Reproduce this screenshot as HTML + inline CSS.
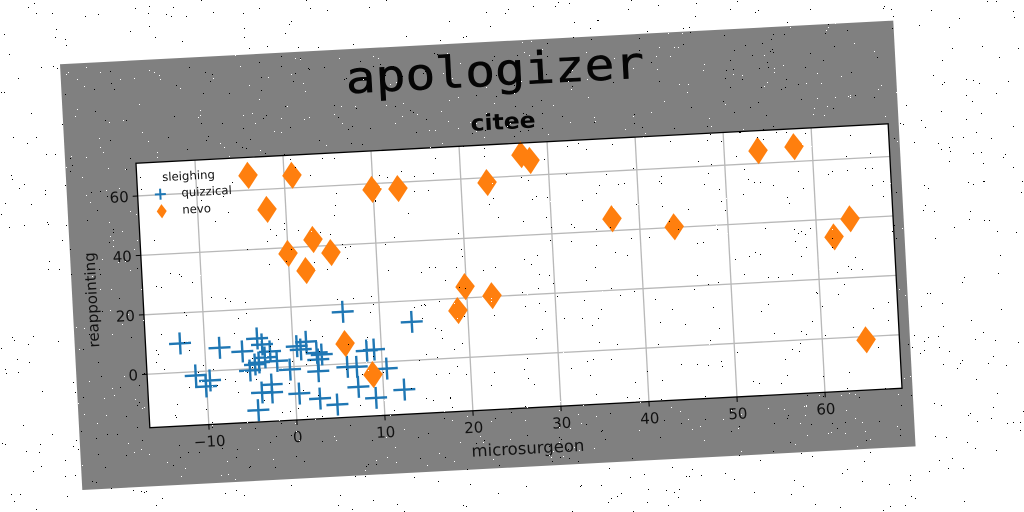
<!DOCTYPE html>
<html lang="en">
<head>
<meta charset="utf-8">
<title>apologizer</title>
<style>
html,body{margin:0;padding:0;background:#fff;width:1024px;height:512px;overflow:hidden}
svg{display:block}
text{font-family:"DejaVu Sans","Liberation Sans",sans-serif;fill:#111111}
</style>
</head>
<body>
<svg id="chart" xmlns="http://www.w3.org/2000/svg" width="1024" height="512" viewBox="0 0 1024 512">
  <rect x="0" y="0" width="1024" height="512" fill="#ffffff"/>
  <g id="figure" transform="translate(60 64.3) rotate(-3)">
    <rect x="0" y="0" width="834.4" height="426.3" fill="#808080"/>
    <text x="434" y="44" text-anchor="middle" textLength="299" lengthAdjust="spacingAndGlyphs" style="font-family:'DejaVu Sans Mono','Liberation Mono',monospace;font-size:44px;fill:#050505;stroke:#050505;stroke-width:0.5">apologizer</text>
    <text x="439.5" y="88" text-anchor="middle" style="font-size:22px;font-weight:bold;fill:#050505" textLength="65" lengthAdjust="spacingAndGlyphs">citee</text>
    <rect x="70.7" y="102.8" width="753.2" height="264.8" fill="#ffffff"/>
    <g id="grid"></g>
    <g id="series-quizzical"></g>
    <g id="series-nevo"></g>
    <rect x="70.7" y="102.8" width="753.2" height="264.8" fill="none" stroke="#000000" stroke-width="1.3"/>
    <g id="ticks"></g>
    <text x="447.2" y="413.5" text-anchor="middle" style="font-size:16.5px">microsurgeon</text>
    <text transform="translate(24.5 237) rotate(-90)" text-anchor="middle" style="font-size:15px">reappointing</text>
    <g>
      <text x="122.5" y="122" text-anchor="middle" style="font-size:11.7px">sleighing</text>
      <path d="M87.9 135H98.9M93.4 129.5V140.5" stroke="#1f77b4" stroke-width="2" fill="none"/>
      <text x="114.5" y="138.5" style="font-size:11.7px">quizzical</text>
      <path d="M93.9 145L98.9 152.1L93.9 159.2L88.9 152.1Z" fill="#ff7f0e"/>
      <text x="114.5" y="155.5" style="font-size:11.7px">nevo</text>
    </g>
  </g>
  <path id="noise-black" fill="#000000"/>
  <path id="noise-white" fill="#ffffff"/>
</svg>
<script>
const xTickValues = [-10, 0, 10, 20, 30, 40, 50, 60];
const yTickValues = [0, 20, 40, 60];
const xTickLabels = ['\u221210', '0', '10', '20', '30', '40', '50', '60'];
const yTickLabels = ['0', '20', '40', '60'];
const xDomain = [-16.7, 68.75];
const yDomain = [-18, 71];
const quizzicalX = [-12.78, -8.33, -5.77, -11.19, -9.6, -10.09, -4.02, -3.5, -2.63, -3.24, -1.9, -5.01, -4.41, -3.95, -0.47, -2.64, -3.78, -2.64, -4.3, 0.44, 2.76, 4.69, 2.72, 7.17, 9.11, 10.49, 6.04, 7.1, 12.36, 13.6, 5.84, 8.33, 9.16, 0.43, 1.51, 0.86, 2.65, 3.21, 2.79];
const quizzicalY = [9.75, 7.6, 5.96, -1.27, -3.2, -5.15, 10.06, 7.96, 5.47, 3.54, 2.15, -0.56, 1.36, 1.96, -0.94, -5.64, -8.16, -8.34, -14.03, -9.16, -11.21, -13.53, -2.01, -7.97, -11.97, -2.32, -1.05, -1.22, -9.69, 12.91, 17.5, 4.07, 4.28, 6.77, 8.08, 5.59, 4.2, 3.54, 1.92];
const nevoX = [-4.08, 0.9, -2.13, 9.89, 12.83, 22.96, 26.97, 27.96, 36.9, 43.9, 53.85, 57.95, 63.87, 61.95, 64.97, -0.01, 2.9, 4.86, 1.93, 5.92, 8.9, 19.85, 18.9, 22.85];
const nevoY = [64.96, 64.2, 53.2, 58.05, 57.9, 58.35, 67.1, 65, 44, 40.2, 64.3, 65, 39.8, 34, -1.1, 38.05, 42.3, 37.6, 32, 6.8, -4.1, 23.8, 15.9, 20.3];

const NS = 'http://www.w3.org/2000/svg';
const plotLeft = 70.7, plotRight = 823.9, plotTop = 102.8, plotBottom = 367.6;
function xScale(v) { return plotLeft + (v - xDomain[0]) / (xDomain[1] - xDomain[0]) * (plotRight - plotLeft); }
function yScale(v) { return plotBottom - (v - yDomain[0]) / (yDomain[1] - yDomain[0]) * (plotBottom - plotTop); }

const grid = document.getElementById('grid');
const ticks = document.getElementById('ticks');

function makeLine(parent, x1, y1, x2, y2, color, width) {
  const l = document.createElementNS(NS, 'line');
  l.setAttribute('x1', x1);
  l.setAttribute('y1', y1);
  l.setAttribute('x2', x2);
  l.setAttribute('y2', y2);
  l.setAttribute('stroke', color);
  l.setAttribute('stroke-width', width);
  parent.appendChild(l);
  return l;
}
function makeLabel(x, y, anchor, str) {
  const t = document.createElementNS(NS, 'text');
  t.setAttribute('x', x);
  t.setAttribute('y', y);
  t.setAttribute('text-anchor', anchor);
  t.setAttribute('style', 'font-size:15px');
  t.textContent = str;
  ticks.appendChild(t);
  return t;
}

xTickValues.forEach(function (v, i) {
  const x = xScale(v);
  const g = makeLine(grid, x, plotTop, x, plotBottom, '#b8b8b8', 1.3);
  
  
  const m = makeLine(ticks, x, plotBottom, x, plotBottom + 5, '#000000', 1);
  
  
  const t = makeLabel(x, plotBottom + 22, 'middle', xTickLabels[i]);
  
  
});
yTickValues.forEach(function (v, i) {
  const y = yScale(v);
  const g = makeLine(grid, plotLeft, y, plotRight, y, '#b8b8b8', 1.3);
  
  
  const m = makeLine(ticks, plotLeft - 5, y, plotLeft, y, '#000000', 1);
  
  
  const t = makeLabel(plotLeft - 9, y + 5.5, 'end', yTickLabels[i]);
  
  
});

const quizzicalGroup = document.getElementById('series-quizzical');
quizzicalX.forEach(function (v, i) {
  const cx = xScale(v), cy = yScale(quizzicalY[i]), r = 11;
  const p = document.createElementNS(NS, 'path');
  p.setAttribute('d', 'M' + (cx - r) + ' ' + cy + 'H' + (cx + r) + 'M' + cx + ' ' + (cy - r) + 'V' + (cy + r));
  p.setAttribute('stroke', '#1f77b4');
  p.setAttribute('stroke-width', '2.4');
  p.setAttribute('fill', 'none');
  
  
  quizzicalGroup.appendChild(p);
});

const nevoGroup = document.getElementById('series-nevo');
nevoX.forEach(function (v, i) {
  const cx = xScale(v), cy = yScale(nevoY[i]), w = 9.8, h = 13.6;
  const p = document.createElementNS(NS, 'path');
  p.setAttribute('d', 'M' + cx + ' ' + (cy - h) + 'L' + (cx + w) + ' ' + cy + 'L' + cx + ' ' + (cy + h) + 'L' + (cx - w) + ' ' + cy + 'Z');
  p.setAttribute('fill', '#ff7f0e');
  
  
  nevoGroup.appendChild(p);
});

/* decorative image speckle only, not chart data */
function speckle(id, count, seed) {
  let s = seed >>> 0, d = '';
  function next() {
    s = (s + 0x6D2B79F5) >>> 0;
    let t = s;
    t = Math.imul(t ^ (t >>> 15), t | 1);
    t ^= t + Math.imul(t ^ (t >>> 7), t | 61);
    return ((t ^ (t >>> 14)) >>> 0) / 4294967296;
  }
  for (let i = 0; i < count; i++) {
    const x = Math.floor(next() * 1024), y = Math.floor(next() * 512);
    d += 'M' + x + ' ' + y + 'h1v1h-1z';
  }
  document.getElementById(id).setAttribute('d', d);
}
speckle('noise-black', 1000, 12345);
speckle('noise-white', 1000, 98765);
</script>
</body>
</html>
